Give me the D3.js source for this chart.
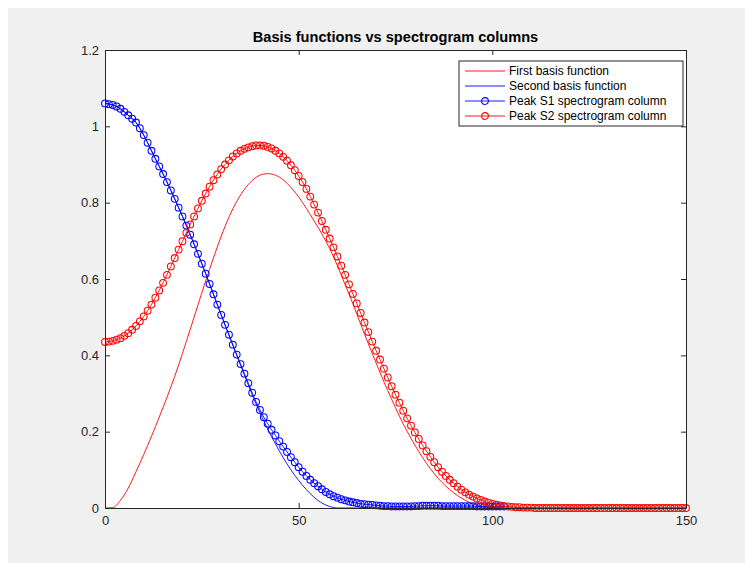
<!DOCTYPE html>
<html>
<head>
<meta charset="utf-8">
<script src="https://cdn.jsdelivr.net/npm/d3@7"></script>
<style>
  body { margin: 0; background: #ffffff; }
  text { font-family: "Liberation Sans", Arial, Helvetica, sans-serif; }
</style>
</head>
<body>
<svg id="chart" width="745" height="563"></svg>
<script>
// ---- data ----
const chartTitle = "Basis functions vs spectrogram columns";
const seriesNames = ["First basis function", "Second basis function", "Peak S1 spectrogram column", "Peak S2 spectrogram column"];
const xTickValues = [0, 50, 100, 150];
const xTickLabels = ["0", "50", "100", "150"];
const yTickValues = [0, 0.2, 0.4, 0.6, 0.8, 1, 1.2];
const yTickLabels = ["0", "0.2", "0.4", "0.6", "0.8", "1", "1.2"];

// basis functions, sampled every 2 bins starting at bin 0
const basisStep = 2;
const firstBasis = [
  0, 0.001, 0.020, 0.052, 0.095, 0.140, 0.188, 0.238, 0.290, 0.345,
  0.405, 0.468, 0.532, 0.595, 0.655, 0.712, 0.762, 0.803, 0.835, 0.858,
  0.872, 0.876, 0.872, 0.860, 0.840, 0.815, 0.785, 0.752, 0.718, 0.680,
  0.635, 0.585, 0.535, 0.482, 0.430, 0.380, 0.331, 0.285, 0.241, 0.201,
  0.165, 0.132, 0.103, 0.078, 0.057, 0.040, 0.026, 0.015, 0.008, 0.003,
  0.001, 0, 0, 0, 0, 0, 0, 0, 0, 0,
  0, 0, 0, 0, 0, 0, 0, 0, 0, 0,
  0, 0, 0, 0, 0, 0
];
const secondBasis = [
  1.060, 1.056, 1.046, 1.029, 1.010, 0.977, 0.936, 0.895, 0.854, 0.810,
  0.764, 0.716, 0.666, 0.614, 0.560, 0.506, 0.453, 0.400, 0.348, 0.297,
  0.250, 0.207, 0.168, 0.132, 0.100, 0.072, 0.048, 0.028, 0.013, 0.004,
  0, 0, 0, 0, 0, 0, 0, 0, 0, 0,
  0, 0, 0, 0, 0, 0, 0, 0, 0, 0,
  0, 0
];

// spectrogram columns, one value per bin starting at bin 0
const peakS1 = [
  1.060, 1.058, 1.056, 1.052, 1.046, 1.038, 1.029, 1.020, 1.010, 0.995,
  0.977, 0.957, 0.936, 0.915, 0.895, 0.875, 0.854, 0.832, 0.810, 0.787,
  0.764, 0.740, 0.716, 0.691, 0.666, 0.640, 0.614, 0.587, 0.560, 0.533,
  0.506, 0.480, 0.454, 0.428, 0.402, 0.377, 0.352, 0.327, 0.302, 0.278,
  0.257, 0.238, 0.221, 0.205, 0.190, 0.175, 0.161, 0.147, 0.133, 0.120,
  0.107, 0.095, 0.084, 0.074, 0.065, 0.057, 0.049, 0.042, 0.036, 0.031,
  0.027, 0.023, 0.020, 0.017, 0.015, 0.013, 0.011, 0.010, 0.009, 0.008,
  0.007, 0.006, 0.005, 0.005, 0.004, 0.004, 0.004, 0.004, 0.004, 0.004,
  0.005, 0.005, 0.006, 0.006, 0.006, 0.006, 0.006, 0.005, 0.005, 0.005,
  0.005, 0.005, 0.005, 0.005, 0.005, 0.005, 0.004, 0.004, 0.004, 0.004,
  0.004, 0.004, 0.004, 0.004
];
const peakS2 = [
  0.435, 0.436, 0.438, 0.441, 0.445, 0.451, 0.458, 0.467, 0.477, 0.489,
  0.502, 0.517, 0.533, 0.551, 0.570, 0.590, 0.611, 0.633, 0.655, 0.677,
  0.699, 0.721, 0.743, 0.764, 0.785, 0.805, 0.824, 0.842, 0.859, 0.874,
  0.888, 0.900, 0.911, 0.921, 0.929, 0.936, 0.941, 0.945, 0.948, 0.950,
  0.950, 0.949, 0.946, 0.942, 0.936, 0.929, 0.920, 0.910, 0.898, 0.885,
  0.870, 0.854, 0.836, 0.816, 0.795, 0.774, 0.752, 0.729, 0.706, 0.683,
  0.659, 0.635, 0.611, 0.586, 0.561, 0.536, 0.511, 0.486, 0.461, 0.436,
  0.412, 0.389, 0.365, 0.342, 0.319, 0.297, 0.276, 0.255, 0.235, 0.216,
  0.198, 0.181, 0.164, 0.149, 0.134, 0.120, 0.107, 0.095, 0.084, 0.074,
  0.065, 0.056, 0.048, 0.041, 0.035, 0.030, 0.025, 0.021, 0.017, 0.014,
  0.011, 0.009, 0.007, 0.005, 0.004, 0.003, 0.002, 0.002, 0.001, 0.001,
  0.001, 0, 0, 0, 0, 0, 0, 0, 0, 0,
  0, 0, 0, 0, 0, 0, 0, 0, 0, 0,
  0, 0, 0, 0, 0, 0, 0, 0, 0, 0,
  0, 0, 0, 0, 0, 0, 0, 0, 0, 0,
  0
];

const seriesColors = ["#ff0000", "#0000ff", "#0000ff", "#ff0000"];
const seriesMarkers = [false, false, true, true];

// ---- layout ----
const W = 745, H = 563;
const plot = { left: 105, right: 686, top: 50, bottom: 508 };
const axisColor = "#262626";
const markerRadius = 3.4;
const markerStroke = 1.05;

const svg = d3.select("#chart");

// figure background
svg.append("rect").attr("width", W).attr("height", H).attr("fill", "#ffffff");
svg.append("rect").attr("x", 8).attr("y", 8).attr("width", W - 8).attr("height", H - 8).attr("fill", "#f0f0f0");

const x = d3.scaleLinear().domain([0, 150]).range([plot.left, plot.right]);
const y = d3.scaleLinear().domain([0, 1.2]).range([plot.bottom, plot.top]);

// axes area
svg.append("rect")
  .attr("x", plot.left).attr("y", plot.top)
  .attr("width", plot.right - plot.left).attr("height", plot.bottom - plot.top)
  .attr("fill", "#ffffff");

svg.append("clipPath").attr("id", "plotClip")
  .append("rect")
  .attr("x", plot.left - 6).attr("y", plot.top - 6)
  .attr("width", plot.right - plot.left + 12).attr("height", plot.bottom - plot.top + 12);

const layer = svg.append("g").attr("clip-path", "url(#plotClip)");

function toPoints(values, step) {
  return values.map((v, i) => [i * step, v]);
}

const lineGen = d3.line()
  .x(d => x(d[0]))
  .y(d => y(d[1]))
  .curve(d3.curveMonotoneX);

const series = [
  { values: toPoints(firstBasis, basisStep) },
  { values: toPoints(secondBasis, basisStep) },
  { values: toPoints(peakS1, 1) },
  { values: toPoints(peakS2, 1) }
];

series.forEach((s, k) => {
  layer.append("path")
    .attr("d", lineGen(s.values))
    .attr("fill", "none")
    .attr("stroke", seriesColors[k])
    .attr("stroke-width", 0.9);
  if (seriesMarkers[k]) {
    layer.append("g").selectAll("circle")
      .data(s.values)
      .join("circle")
      .attr("cx", d => x(d[0]))
      .attr("cy", d => y(d[1]))
      .attr("r", markerRadius)
      .attr("fill", "none")
      .attr("stroke", seriesColors[k])
      .attr("stroke-width", markerStroke);
  }
});

// axes with inward ticks on all four sides
function styleAxis(g) {
  g.selectAll(".domain").attr("stroke", axisColor).attr("stroke-width", 1);
  g.selectAll(".tick line").attr("stroke", axisColor).attr("stroke-width", 1);
  g.selectAll(".tick text").attr("fill", axisColor)
    .style("font-family", '"Liberation Sans", Arial, Helvetica, sans-serif')
    .style("font-size", "13px");
}

const xBottom = svg.append("g")
  .attr("transform", `translate(0,${plot.bottom})`)
  .call(d3.axisBottom(x).tickValues(xTickValues)
    .tickFormat((d, i) => xTickLabels[i])
    .tickSizeInner(-5).tickSizeOuter(0).tickPadding(8));
styleAxis(xBottom);

const xTop = svg.append("g")
  .attr("transform", `translate(0,${plot.top})`)
  .call(d3.axisTop(x).tickValues(xTickValues).tickFormat("")
    .tickSizeInner(-5).tickSizeOuter(0));
styleAxis(xTop);

const yLeft = svg.append("g")
  .attr("transform", `translate(${plot.left},0)`)
  .call(d3.axisLeft(y).tickValues(yTickValues)
    .tickFormat((d, i) => yTickLabels[i])
    .tickSizeInner(-5).tickSizeOuter(0).tickPadding(6));
styleAxis(yLeft);

const yRight = svg.append("g")
  .attr("transform", `translate(${plot.right},0)`)
  .call(d3.axisRight(y).tickValues(yTickValues).tickFormat("")
    .tickSizeInner(-5).tickSizeOuter(0));
styleAxis(yRight);

// title
svg.append("text")
  .attr("x", (plot.left + plot.right) / 2)
  .attr("y", 42)
  .attr("text-anchor", "middle")
  .attr("font-size", "14.6px")
  .attr("font-weight", "bold")
  .attr("fill", "#000000")
  .text(chartTitle);

// legend
const legend = svg.append("g").attr("transform", "translate(459,61)");
legend.append("rect")
  .attr("width", 224).attr("height", 65)
  .attr("fill", "#ffffff")
  .attr("stroke", axisColor).attr("stroke-width", 1);

seriesNames.forEach((name, k) => {
  const rowY = 10 + k * 15;
  const row = legend.append("g").attr("transform", `translate(0,${rowY})`);
  row.append("line")
    .attr("x1", 6).attr("x2", 46)
    .attr("stroke", seriesColors[k]).attr("stroke-width", 0.9);
  if (seriesMarkers[k]) {
    row.append("circle")
      .attr("cx", 26).attr("cy", 0).attr("r", markerRadius)
      .attr("fill", "none")
      .attr("stroke", seriesColors[k]).attr("stroke-width", markerStroke);
  }
  row.append("text")
    .attr("x", 50).attr("y", 4.2)
    .attr("font-size", "12px")
    .attr("fill", "#000000")
    .text(name);
});
</script>
</body>
</html>
